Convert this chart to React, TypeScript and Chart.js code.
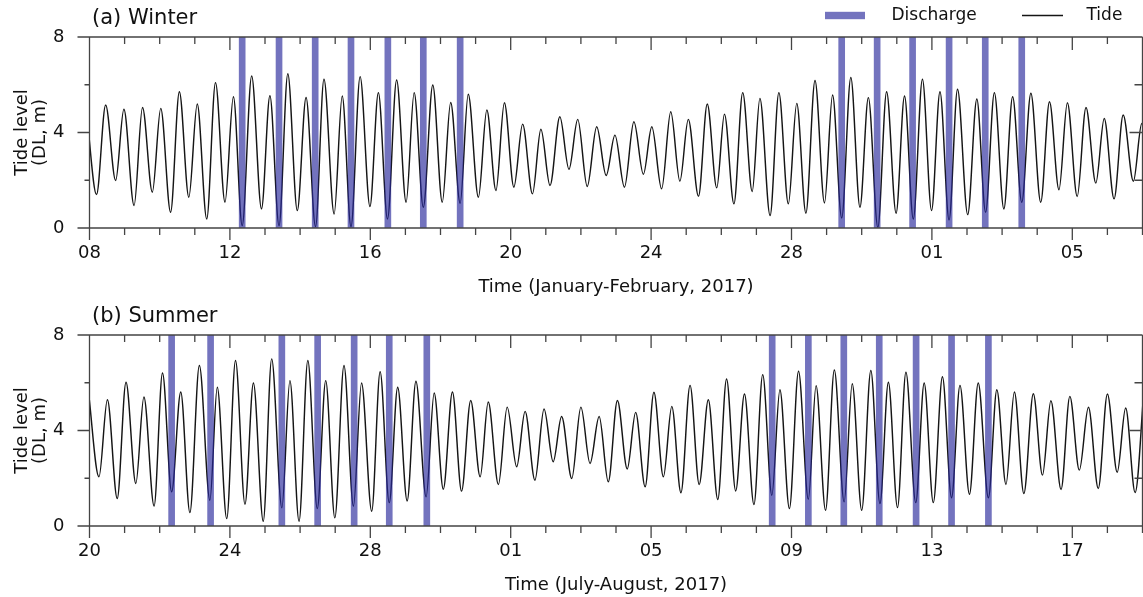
import React, { useEffect, useRef } from 'react';
import { Chart, registerables } from 'chart.js';

Chart.register(...registerables);

const FONT = '"DejaVu Sans", Verdana, sans-serif';
const DISCHARGE_COLOR = 'rgba(40, 40, 155, 0.65)';
const TIDE_COLOR = '#151515';
const FRAME_COLOR = '#444444';

// ---- Winter (Jan 8 – Feb 7, 2017); x = days since Jan 8 00:00 ----
const winterTideDays = [
  -0.07, 0.2, 0.46, 0.745, 0.98, 1.27, 1.51, 1.79, 2.03, 2.31, 2.56, 2.83, 3.07, 3.34, 3.59, 3.86,
  4.1, 4.35, 4.62, 4.9, 5.14, 5.4, 5.65, 5.92, 6.17, 6.44, 6.68, 6.97, 7.2, 7.45, 7.71, 7.99,
  8.23, 8.49, 8.75, 9.02, 9.25, 9.51, 9.78, 10.05, 10.29, 10.56, 10.79, 11.08, 11.32, 11.58, 11.82, 12.09,
  12.34, 12.62, 12.86, 13.12, 13.4, 13.66, 13.91, 14.18, 14.45, 14.72, 14.97, 15.24, 15.51, 15.78, 16.02, 16.3,
  16.56, 16.82, 17.06, 17.35, 17.6, 17.87, 18.09, 18.36, 18.61, 18.88, 19.1, 19.39, 19.64, 19.91, 20.15, 20.41,
  20.67, 20.94, 21.17, 21.43, 21.69, 21.95, 22.19, 22.46, 22.71, 22.98, 23.22, 23.47, 23.73, 23.99, 24.23, 24.49,
  24.73, 25.02, 25.28, 25.53, 25.78, 26.05, 26.3, 26.56, 26.82, 27.1, 27.35, 27.62, 27.86, 28.14, 28.39, 28.67,
  28.91, 29.19, 29.45, 29.74, 29.98, 30.25,
];
const winterTideLevels = [
  4.6, 1.4, 5.15, 1.99, 4.97, 0.94, 5.05, 1.5, 5.01, 0.66, 5.71, 1.29, 5.19, 0.38, 6.09, 1.08,
  5.5, 0.1, 6.37, 0.8, 5.54, 0.1, 6.46, 0.73, 5.47, 0.06, 6.23, 0.59, 5.53, 0.06, 6.34, 0.9,
  5.67, 0.38, 6.2, 1.08, 5.67, 0.87, 5.99, 1.08, 5.26, 1.04, 5.6, 1.29, 4.94, 1.57, 5.25, 1.71,
  4.35, 1.43, 4.14, 1.78, 4.66, 2.46, 4.55, 1.74, 4.24, 2.2, 3.89, 1.71, 4.45, 2.25, 4.24, 1.64,
  4.87, 1.96, 4.55, 1.33, 5.19, 1.68, 4.77, 1.01, 5.67, 1.53, 5.43, 0.52, 5.67, 1.01, 5.22, 0.62,
  6.18, 1.05, 5.57, 0.42, 6.3, 0.87, 5.46, 0.03, 5.71, 0.62, 5.53, 0.38, 6.23, 0.73, 5.71, 0.34,
  5.81, 0.56, 5.4, 0.66, 5.67, 0.8, 5.5, 1.08, 5.64, 1.08, 5.29, 1.6, 5.25, 1.32, 5.05, 1.88,
  4.59, 1.22, 4.73, 1.96, 4.38, 1.9,
];
const winterDischargeDays = [4.35, 5.4, 6.43, 7.45, 8.5, 9.51, 10.56, 21.43, 22.44, 23.45, 24.49, 25.52, 26.56];
const winterTickDays = [0, 4, 8, 12, 16, 20, 24, 28];
const winterTickLabels = ['08', '12', '16', '20', '24', '28', '01', '05'];

// ---- Summer (Jul 20 – Aug 19, 2017); x = days since Jul 20 00:00 ----
const summerTideDays = [
  -0.03, 0.27, 0.51, 0.79, 1.04, 1.32, 1.55, 1.84, 2.08, 2.34, 2.6, 2.86, 3.13, 3.43, 3.64, 3.91,
  4.16, 4.43, 4.67, 4.95, 5.19, 5.48, 5.71, 5.97, 6.22, 6.49, 6.73, 6.99, 7.25, 7.52, 7.75, 8.04,
  8.28, 8.54, 8.78, 9.05, 9.3, 9.59, 9.82, 10.08, 10.34, 10.6, 10.86, 11.13, 11.36, 11.65, 11.9, 12.17,
  12.41, 12.69, 12.95, 13.21, 13.45, 13.74, 14.0, 14.26, 14.52, 14.78, 15.04, 15.32, 15.56, 15.83, 16.08, 16.35,
  16.59, 16.85, 17.11, 17.37, 17.63, 17.9, 18.15, 18.41, 18.66, 18.93, 19.18, 19.44, 19.67, 19.94, 20.2, 20.48,
  20.7, 20.97, 21.22, 21.5, 21.73, 22.0, 22.26, 22.52, 22.76, 23.02, 23.26, 23.54, 23.78, 24.04, 24.3, 24.56,
  24.8, 25.07, 25.32, 25.61, 25.85, 26.11, 26.35, 26.62, 26.89, 27.15, 27.39, 27.68, 27.93, 28.2, 28.46, 28.74,
  29.0, 29.28, 29.52, 29.79, 30.05,
];
const summerTideLevels = [
  5.62, 2.06, 5.29, 1.15, 6.02, 1.78, 5.4, 0.84, 6.41, 1.43, 5.61, 0.56, 6.72, 1.08, 5.81, 0.31,
  6.93, 0.91, 5.99, 0.2, 7.0, 0.76, 6.09, 0.2, 6.93, 0.73, 6.09, 0.34, 6.72, 0.83, 5.99, 0.62,
  6.46, 0.98, 5.81, 1.05, 6.06, 1.22, 5.57, 1.54, 5.61, 1.46, 5.26, 2.06, 5.19, 1.74, 4.98, 2.48,
  4.8, 1.92, 4.9, 2.69, 4.59, 1.99, 4.98, 2.62, 4.59, 1.85, 5.26, 2.39, 4.76, 1.64, 5.6, 2.06,
  5.01, 1.39, 5.89, 1.74, 5.29, 1.11, 6.16, 1.47, 5.53, 0.9, 6.34, 1.29, 5.71, 0.73, 6.48, 1.12,
  5.88, 0.66, 6.53, 1.01, 5.96, 0.66, 6.51, 0.94, 6.02, 0.77, 6.44, 0.98, 5.99, 0.98, 6.25, 1.18,
  5.89, 1.33, 5.99, 1.18, 5.71, 1.74, 5.61, 1.36, 5.54, 2.13, 5.25, 1.53, 5.43, 2.34, 4.97, 1.57,
  5.53, 2.25, 4.94, 1.4, 5.9,
];
const summerDischargeDays = [2.34, 3.45, 5.48, 6.5, 7.54, 8.54, 9.61, 19.45, 20.48, 21.49, 22.5, 23.55, 24.56, 25.61];
const summerTickDays = [0, 4, 8, 12, 16, 20, 24, 28];
const summerTickLabels = ['20', '24', '28', '01', '05', '09', '13', '17'];

const levelTicks = [0, 4, 8];
const levelMinorTicks = [2, 6];
const dayRange = [0, 30];
const levelRange = [0, 8];

const legendItems = ['Discharge', 'Tide'];

type PanelProps = {
  label: string;
  axisTitle: string;
  tideDays: number[];
  tideLevels: number[];
  dischargeDays: number[];
  tickDays: number[];
  tickLabels: string[];
  showLegend: boolean;
  top: number;
};

function makeFramePlugin(label: string, showLegend: boolean) {
  return {
    id: 'frameAndLabels',
    afterDatasetsDraw(chart: any) {
      const ctx = chart.ctx as CanvasRenderingContext2D;
      const { left, right, top, bottom } = chart.chartArea;
      const xs = chart.scales.x;
      const ys = chart.scales.y;
      ctx.save();
      ctx.strokeStyle = FRAME_COLOR;
      ctx.lineWidth = 1.3;
      ctx.beginPath();
      ctx.moveTo(left - 12, top);
      ctx.lineTo(right, top);
      ctx.moveTo(left - 12, bottom);
      ctx.lineTo(right, bottom);
      ctx.moveTo(left, top);
      ctx.lineTo(left, bottom);
      ctx.moveTo(right, top);
      ctx.lineTo(right, bottom);
      for (const v of levelTicks) {
        const py = ys.getPixelForValue(v);
        ctx.moveTo(left - 12, py);
        ctx.lineTo(left, py);
        ctx.moveTo(right - 13, py);
        ctx.lineTo(right, py);
      }
      for (const v of levelMinorTicks) {
        const py = ys.getPixelForValue(v);
        ctx.moveTo(left - 5, py);
        ctx.lineTo(left, py);
        ctx.moveTo(right - 8, py);
        ctx.lineTo(right, py);
      }
      for (let d = dayRange[0]; d <= dayRange[1]; d++) {
        const px = xs.getPixelForValue(d);
        const major = d % 4 === 0;
        ctx.moveTo(px, bottom);
        ctx.lineTo(px, bottom + (major ? 12 : 7));
        ctx.moveTo(px, top);
        ctx.lineTo(px, top + (major ? 13 : 7));
      }
      ctx.stroke();

      ctx.fillStyle = '#111';
      ctx.textBaseline = 'middle';
      ctx.textAlign = 'left';
      ctx.font = `21px ${FONT}`;
      ctx.fillText(label, 92, 18.5);

      if (showLegend) {
        ctx.font = `17px ${FONT}`;
        ctx.fillStyle = DISCHARGE_COLOR;
        ctx.fillRect(825, 11.8, 40, 7.4);
        ctx.fillStyle = '#111';
        ctx.fillText(legendItems[0], 891.5, 16);
        ctx.strokeStyle = TIDE_COLOR;
        ctx.lineWidth = 1.3;
        ctx.beginPath();
        ctx.moveTo(1022, 15.5);
        ctx.lineTo(1063, 15.5);
        ctx.stroke();
        ctx.fillText(legendItems[1], 1086.5, 16);
      }
      ctx.restore();
    },
  };
}

function Panel(props: PanelProps) {
  const ref = useRef<HTMLCanvasElement | null>(null);
  useEffect(() => {
    if (!ref.current) return;
    const chart = new Chart(ref.current, {
      type: 'line',
      data: {
        datasets: [
          {
            type: 'bar',
            label: legendItems[0],
            data: props.dischargeDays.map((d) => ({ x: d, y: [levelRange[0], levelRange[1]] })),
            backgroundColor: DISCHARGE_COLOR,
            borderWidth: 0,
            barThickness: 6,
            grouped: false,
            order: 0,
          } as any,
          {
            type: 'line',
            label: legendItems[1],
            data: props.tideDays.map((d, i) => ({ x: d, y: props.tideLevels[i] })),
            borderColor: TIDE_COLOR,
            borderWidth: 1.45,
            pointRadius: 0,
            fill: false,
            cubicInterpolationMode: 'monotone',
            order: 1,
          } as any,
        ],
      },
      options: {
        animation: false,
        responsive: false,
        events: [],
        layout: { padding: { top: 37, right: 0.5, bottom: 0, left: 0 } },
        plugins: {
          legend: { display: false },
          tooltip: { enabled: false },
          title: { display: false },
        },
        scales: {
          x: {
            type: 'linear',
            min: dayRange[0],
            max: dayRange[1],
            offset: false,
            grid: { display: false, drawTicks: false, offset: false },
            border: { display: false },
            afterBuildTicks: (s: any) => {
              s.ticks = props.tickDays.map((v) => ({ value: v }));
            },
            afterFit: (s: any) => {
              s.height = 70;
            },
            ticks: {
              autoSkip: false,
              maxRotation: 0,
              padding: 15,
              color: '#111',
              font: { family: FONT, size: 18 },
              callback: (_v: any, i: number) => props.tickLabels[i],
            },
            title: {
              display: true,
              text: props.axisTitle,
              color: '#111',
              font: { family: FONT, size: 18, lineHeight: 1.2 },
              padding: { top: 0, bottom: 0 },
            },
          },
          y: {
            type: 'linear',
            min: levelRange[0],
            max: levelRange[1],
            grid: { display: false, drawTicks: false },
            border: { display: false },
            afterBuildTicks: (s: any) => {
              s.ticks = levelTicks.map((v) => ({ value: v }));
            },
            afterFit: (s: any) => {
              s.width = 89.5;
            },
            ticks: {
              padding: 25,
              color: '#111',
              font: { family: FONT, size: 18 },
              callback: (v: any) => String(v),
            },
            title: {
              display: true,
              text: ['Tide level', '(DL, m)'],
              color: '#111',
              font: { family: FONT, size: 18, lineHeight: 1 },
              padding: { top: 13, bottom: 0 },
            },
          },
        },
      } as any,
      plugins: [makeFramePlugin(props.label, props.showLegend)],
    });
    return () => chart.destroy();
  }, []);
  return (
    <canvas
      ref={ref}
      width={1143}
      height={298}
      style={{ position: 'absolute', left: 0, top: props.top, width: 1143, height: 298, display: 'block' }}
    />
  );
}

export default function App() {
  return (
    <div style={{ position: 'absolute', left: 0, top: 0, width: 1143, height: 597, background: '#fff', overflow: 'hidden' }}>
      <Panel
        label="(a) Winter"
        axisTitle="Time (January-February, 2017)"
        tideDays={winterTideDays}
        tideLevels={winterTideLevels}
        dischargeDays={winterDischargeDays}
        tickDays={winterTickDays}
        tickLabels={winterTickLabels}
        showLegend={true}
        top={0}
      />
      <Panel
        label="(b) Summer"
        axisTitle="Time (July-August, 2017)"
        tideDays={summerTideDays}
        tideLevels={summerTideLevels}
        dischargeDays={summerDischargeDays}
        tickDays={summerTickDays}
        tickLabels={summerTickLabels}
        showLegend={false}
        top={298}
      />
    </div>
  );
}
